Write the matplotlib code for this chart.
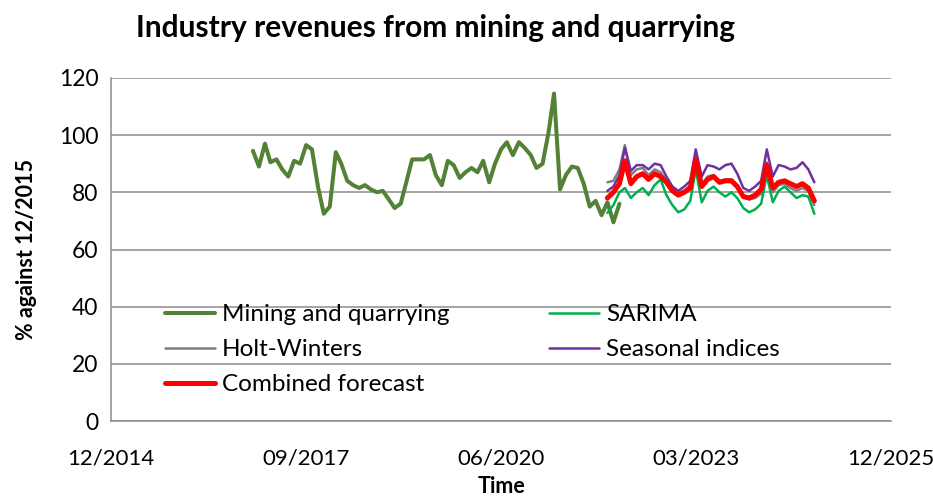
import matplotlib
matplotlib.use("Agg")
import matplotlib.pyplot as plt
import pandas as pd

# monthly index of mining and quarrying revenues (% against 12/2015), from 12/2016
mining = [94.5, 89, 97, 90.5, 91.5, 88, 85.5, 91, 90, 96.5, 95, 82,
          72.5, 75, 94, 90, 84, 82.5, 81.5, 82.5, 81, 80, 80.5, 77.5,
          74.5, 76, 84, 91.5, 91.5, 91.5, 93, 86, 82.5, 91, 89.5, 85,
          87, 88.5, 87, 91, 83.5, 90, 95, 97.5, 93, 97.5, 95.5, 93,
          88.5, 90, 101, 114.5, 81, 86, 89, 88.5, 83, 75, 77, 72,
          76.5, 69.5, 76]

# forecasts, monthly from 12/2021
sarima = [72.8, 75.5, 80, 81.5, 78, 80, 81.5, 79, 82.5, 84.5, 79, 75.5,
          73, 74, 77, 88, 76.5, 80.5, 82, 80, 78.5, 80, 78, 74.5,
          73, 74, 76, 86, 76.5, 80.5, 82, 80, 78, 79, 78.5, 72.5]
holt_winters = [83.5, 84, 88, 96.5, 86, 88, 88.5, 86, 88, 87, 84, 81,
                80, 80.5, 82.5, 93, 82.5, 85.5, 86, 84, 84.5, 84.5, 82.5, 78.5,
                77.5, 78, 79.5, 90.5, 80, 82.5, 83, 81.5, 80.5, 81.5, 80.5, 75.5]
seasonal = [80.5, 82, 86, 95.5, 87.5, 89.5, 89.5, 88, 90, 89.5, 85.5, 82,
            80.5, 82, 84, 95, 85.5, 89.5, 89, 88, 89.5, 90, 86.5, 81.5,
            80.5, 82, 84, 95, 85.5, 89.5, 89, 88, 88.5, 90.5, 88, 83.5]
combined = [78, 80, 83, 91, 83, 85.5, 86.5, 84.5, 86.5, 85.5, 83.5, 80.5,
            79, 80, 81.5, 91.5, 82, 84.5, 85.5, 83.5, 84, 84, 82, 78.5,
            78, 79, 81, 89.5, 81.5, 83.5, 84, 83, 82, 83, 81.5, 77]

tick_labels = ["12/2014", "09/2017", "06/2020", "03/2023", "12/2025"]

hist_dates = pd.date_range("2016-12-01", periods=len(mining), freq="MS")
fc_dates = pd.date_range("2021-12-01", periods=len(combined), freq="MS")
tick_dates = pd.to_datetime(["2014-12-01", "2017-09-01", "2020-06-01",
                             "2023-03-01", "2025-12-01"])

plt.rcParams["font.family"] = ["Lato", "DejaVu Sans"]

fig = plt.figure(figsize=(9.33, 4.99), dpi=100)
ax = fig.add_axes([0.119, 0.156, 0.836, 0.688])

kw = dict(solid_joinstyle="round", solid_capstyle="round")
ax.plot(hist_dates, mining, color="#538135", lw=2.9, label="Mining and quarrying", **kw)
ax.plot(fc_dates, holt_winters, color="#7f7f7f", lw=1.8, label="Holt-Winters", **kw)
ax.plot(fc_dates, seasonal, color="#7030a0", lw=1.8, label="Seasonal indices", **kw)
ax.plot(fc_dates, sarima, color="#00b050", lw=1.8, label="SARIMA", **kw)
ax.plot(fc_dates, combined, color="#ff0000", lw=3.6, label="Combined forecast", **kw)

ax.set_xlim(tick_dates[0], tick_dates[-1])
ax.set_ylim(0, 120)
ax.set_yticks(range(0, 121, 20))
ax.set_xticks(tick_dates)
ax.set_xticklabels(tick_labels)
ax.tick_params(axis="both", length=0, labelsize=16.5)
ax.tick_params(axis="y", pad=9)
ax.tick_params(axis="x", pad=20, labelsize=16)
ax.yaxis.grid(True, color="#8c8c8c", lw=1.1)
ax.set_axisbelow(True)
for s in ["top", "right"]:
    ax.spines[s].set_visible(False)
for s in ["left", "bottom"]:
    ax.spines[s].set_color("#8c8c8c")
    ax.spines[s].set_linewidth(1.1)

ax.set_ylabel("% against 12/2015", fontsize=15.5, fontweight="bold", labelpad=16)
ax.set_xlabel("Time", fontsize=15.5, fontweight="bold", labelpad=5)
fig.text(0.467, 0.944, "Industry revenues from mining and quarrying",
         ha="center", va="center", fontsize=21.5, fontweight="bold")

handles, labels = ax.get_legend_handles_labels()
order = [0, 1, 4, 3, 2]
ax.legend([handles[i] for i in order], [labels[i] for i in order],
          ncol=2, frameon=False, fontsize=17.5, loc="upper left",
          bbox_to_anchor=(0.069, 0.34), borderpad=0, borderaxespad=0,
          handlelength=2.05, handletextpad=0.3, columnspacing=4.1,
          labelspacing=0.57)

fig.savefig("out.png", dpi=100)
